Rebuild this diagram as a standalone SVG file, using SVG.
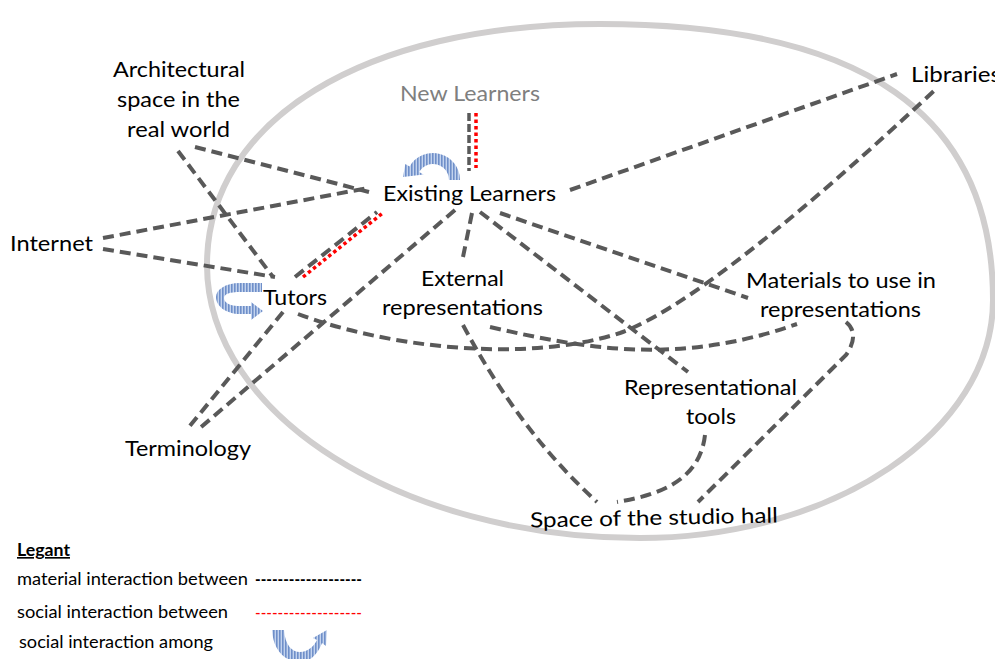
<svg xmlns="http://www.w3.org/2000/svg" width="995" height="659" viewBox="0 0 995 659">
<style>
text{font-family:Lato,"Liberation Sans",sans-serif;fill:#000}
.n{font-size:21px}
.lg{font-size:16.5px}
.c{fill:none;stroke:#595959;stroke-width:4;stroke-dasharray:11 6}
.r{fill:none;stroke:#ff0000;stroke-width:3.5;stroke-dasharray:3.5 3}
.loop{fill:url(#stripes);stroke:none}
</style>
<defs>
<pattern id="stripes" patternUnits="userSpaceOnUse" width="3" height="10">
<rect width="3" height="10" fill="#c3d3ee"/>
<rect width="1.6" height="10" fill="#6f8fc9"/>
</pattern>
</defs>
<rect width="995" height="659" fill="#fff"/>
<path id="boundary" d="M600,24 C863,24 993,114 993,300 C993,431 834,538 640,538 C402,538 207,415 207,265 C207,120 364,24 600,24 Z" fill="none" stroke="#d0cece" stroke-width="6"/>
<g id="connectors">
<line class="c" x1="195" y1="147" x2="369" y2="192"/>
<line class="c" x1="103" y1="238" x2="368" y2="188"/>
<line class="c" x1="178" y1="151" x2="273" y2="277"/>
<line class="c" x1="103" y1="249" x2="275" y2="277"/>
<line class="c" x1="295" y1="277" x2="377" y2="212"/>
<line class="r" x1="303" y1="277" x2="384" y2="212"/>
<line class="c" x1="283" y1="312" x2="189" y2="427"/>
<line class="c" x1="455" y1="210" x2="200" y2="428"/>
<path class="c" d="M298,314 C380,345 520,365 620,333 C700,305 860,160 937,88"/>
<line class="c" x1="570" y1="190" x2="897" y2="74"/>
<line class="c" x1="469" y1="113" x2="469" y2="171" style="stroke-width:3.5;stroke-dasharray:8 3"/>
<line class="r" x1="476" y1="113" x2="476" y2="168"/>
<line class="c" x1="472" y1="213" x2="463" y2="257"/>
<line class="c" x1="480" y1="212" x2="688" y2="372"/>
<line class="c" x1="500" y1="213" x2="748" y2="298"/>
<path class="c" d="M490,327 C590,350 680,365 797,324"/>
<path class="c" d="M463,325 Q520,432 597,502"/>
<path class="c" d="M705,435 C700,480 660,495 617,502"/>
<path class="c" d="M846,322 C856,330 855,342 846,355 L698,502"/>
</g>
<g id="existing-learners">
<path class="loop" d="M460,180 A27,27 0 0 0 409.6,166.5 L405.3,164 L403,177 L423.5,174.5 L419.1,172 A16,16 0 0 1 449,180 Z"/>
<text class="n" x="383" y="201" textLength="173" lengthAdjust="spacingAndGlyphs">Existing Learners</text>
</g>
<g id="new-learners"><text class="n" x="400" y="101" textLength="140" lengthAdjust="spacingAndGlyphs" style="fill:#7f7f7f">New Learners</text></g>
<g id="architectural-space">
<text class="n" x="113" y="77" textLength="132" lengthAdjust="spacingAndGlyphs">Architectural</text>
<text class="n" x="117" y="107" textLength="123" lengthAdjust="spacingAndGlyphs">space in the</text>
<text class="n" x="127" y="137" textLength="103" lengthAdjust="spacingAndGlyphs">real world</text>
</g>
<g id="libraries"><text class="n" x="911" y="82" textLength="90" lengthAdjust="spacingAndGlyphs">Libraries</text></g>
<g id="internet"><text class="n" x="10" y="251" textLength="83" lengthAdjust="spacingAndGlyphs">Internet</text></g>
<g id="tutors">
<path class="loop" d="M262,283 L240,283 C225,283 216,290 216,297 C216,306 226,314 240,314 L251,314 L251,320 L263,311 L251,302 L251,306 L238,306 C229,306 224,302 224,298 C224,294 230,292 240,292 L262,292 Z"/>
<text class="n" x="263" y="305" textLength="64" lengthAdjust="spacingAndGlyphs">Tutors</text>
</g>
<g id="external-representations">
<text class="n" x="421" y="286" textLength="83" lengthAdjust="spacingAndGlyphs">External</text>
<text class="n" x="382" y="315" textLength="161" lengthAdjust="spacingAndGlyphs">representations</text>
</g>
<g id="materials">
<text class="n" x="746" y="288" textLength="190" lengthAdjust="spacingAndGlyphs">Materials to use in</text>
<text class="n" x="760" y="317" textLength="161" lengthAdjust="spacingAndGlyphs">representations</text>
</g>
<g id="representational-tools">
<text class="n" x="624" y="395" textLength="173" lengthAdjust="spacingAndGlyphs">Representational</text>
<text class="n" x="686" y="424" textLength="50" lengthAdjust="spacingAndGlyphs">tools</text>
</g>
<g id="terminology"><text class="n" x="125" y="456" textLength="126" lengthAdjust="spacingAndGlyphs">Terminology</text></g>
<g id="studio-hall"><text class="n" x="530" y="525" textLength="248" lengthAdjust="spacingAndGlyphs" transform="rotate(-1.2 654 520)">Space of the studio hall</text></g>
<g id="legend">
<text class="lg" x="17" y="556" textLength="53" lengthAdjust="spacingAndGlyphs" style="font-weight:bold;text-decoration:underline">Legant</text>
<text class="lg" x="17" y="585" textLength="231" lengthAdjust="spacingAndGlyphs">material interaction between</text>
<text class="lg" x="255" y="585" textLength="107" lengthAdjust="spacingAndGlyphs" style="font-weight:bold">-------------------</text>
<text class="lg" x="17" y="618" textLength="211" lengthAdjust="spacingAndGlyphs">social interaction between</text>
<text class="lg" x="255" y="619" textLength="107" lengthAdjust="spacingAndGlyphs" style="fill:#ff0000">-------------------</text>
<text class="lg" x="19" y="648" textLength="194" lengthAdjust="spacingAndGlyphs">social interaction among</text>
<path class="loop" d="M272,630 L284,630 C285,645 292,652 300,652 C308,652 314,646 317,640 L313,638 L327,630 L326,646 L322,643 C318,654 310,662 300,662 C285,662 273,650 272,630 Z"/>
</g>
</svg>
